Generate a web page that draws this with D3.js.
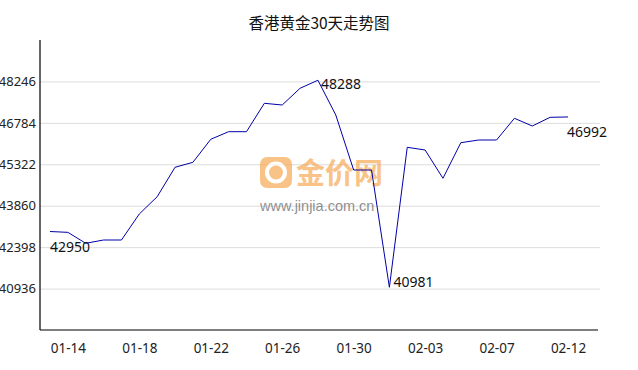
<!DOCTYPE html>
<html>
<head>
<meta charset="utf-8">
<script src="https://cdn.jsdelivr.net/npm/d3@7"></script>
<style>
  body { margin: 0; background: #fff; }
  text { font-family: "Noto Sans", "Noto Sans CJK SC", sans-serif; }
</style>
</head>
<body>
<svg id="mainsvg" width="638" height="370"></svg>
<script>
const svg = d3.select('#mainsvg');

// data
const dates = ['01-13', '01-14', '01-15', '01-16', '01-17', '01-18', '01-19', '01-20', '01-21', '01-22',
    '01-23', '01-24', '01-25', '01-26', '01-27', '01-28', '01-29', '01-30', '01-31', '02-01',
    '02-02', '02-03', '02-04', '02-05', '02-06', '02-07', '02-08', '02-10', '02-11', '02-12'];
const prices = [42950, 42920, 42534, 42650, 42650, 43568, 44178, 45216, 45392, 46204,
    46472, 46472, 47474, 47414, 48004, 48288, 47061, 45120, 45120, 40981,
    45921, 45826, 44827, 46084, 46179, 46179, 46945, 46673, 46980, 46992];
const yTicks = [40936, 42398, 43860, 45322, 46784, 48246];
const xTickLabels = ['01-14', '01-18', '01-22', '01-26', '01-30', '02-03', '02-07', '02-12'];
const yDomain = [39474, 49708];
const title = '香港黄金30天走势图';

const plot = { left: 40, right: 600, top: 40, bottom: 330 };

const xScale = d3.scalePoint().domain(dates).range([50, 568]);
const yScale = d3.scaleLinear().domain(yDomain).range([plot.bottom, plot.top]);

// gridlines + y labels
const yAxis = d3.axisLeft(yScale)
    .tickValues(yTicks)
    .tickSize(-(plot.right - plot.left))
    .tickPadding(4)
    .tickFormat(d => d);
const yg = svg.append('g')
    .attr('transform', `translate(${plot.left},0)`)
    .call(yAxis);
yg.select('.domain').remove();
yg.selectAll('.tick line').attr('stroke', '#dcdcdc');
yg.selectAll('.tick text')
    .attr('font-size', '13px')
    .attr('fill', '#222');

// watermark
const wm = svg.append('g').attr('opacity', 0.65);
wm.append('rect')
    .attr('x', 260).attr('y', 157).attr('width', 32).attr('height', 31)
    .attr('rx', 7).attr('fill', '#f7a44a');
wm.append('circle')
    .attr('cx', 276).attr('cy', 172.5).attr('r', 9)
    .attr('fill', 'none').attr('stroke', '#fff').attr('stroke-width', 4);
wm.append('text')
    .attr('x', 296).attr('y', 184)
    .attr('font-size', '29px').attr('font-weight', 'bold')
    .attr('fill', '#f7a44a')
    .style('font-family', '"Noto Sans CJK SC"')
    .text('金价网');
wm.append('text')
    .attr('x', 260).attr('y', 211)
    .attr('font-size', '14.5px')
    .attr('fill', '#555')
    .style('font-family', '"Liberation Sans", sans-serif')
    .text('www.jinjia.com.cn');

// line
const line = d3.line()
    .x((d, i) => xScale(dates[i]))
    .y(d => yScale(d));
svg.append('path')
    .datum(prices)
    .attr('d', line)
    .attr('fill', 'none')
    .attr('stroke', '#0000a8')
    .attr('stroke-width', 1);

// axes lines
svg.append('line')
    .attr('x1', plot.left).attr('x2', plot.left).attr('y1', plot.top).attr('y2', plot.bottom)
    .attr('stroke', '#000').attr('stroke-width', 1.2);
svg.append('line')
    .attr('x1', plot.left).attr('x2', 598).attr('y1', plot.bottom).attr('y2', plot.bottom)
    .attr('stroke', '#000').attr('stroke-width', 1.2);

// x labels
const xAxis = d3.axisBottom(xScale)
    .tickValues(xTickLabels)
    .tickSize(0)
    .tickPadding(13);
const xg = svg.append('g')
    .attr('transform', `translate(0,${plot.bottom})`)
    .call(xAxis);
xg.select('.domain').remove();
xg.selectAll('.tick text')
    .attr('font-size', '13.5px')
    .attr('fill', '#222');

// value labels: first, max, min, last
const iMax = d3.maxIndex(prices);
const iMin = d3.minIndex(prices);
const n = prices.length;
const notes = [
    { i: 0, dx: 0, dy: 20 },
    { i: iMax, dx: 3, dy: 9 },
    { i: iMin, dx: 4, dy: 0 },
    { i: n - 1, dx: -1, dy: 20 }
];
svg.selectAll('.note')
    .data(notes)
    .join('text')
    .attr('class', 'note')
    .attr('x', d => xScale(dates[d.i]) + d.dx)
    .attr('y', d => yScale(prices[d.i]) + d.dy)
    .attr('font-size', '14px')
    .attr('fill', '#111')
    .text(d => prices[d.i]);

// title
svg.append('text')
    .attr('x', 319).attr('y', 29)
    .attr('text-anchor', 'middle')
    .attr('font-size', '15.5px')
    .attr('fill', '#111')
    .style('font-family', '"Noto Sans CJK SC", sans-serif')
    .text(title);
</script>
</body>
</html>
